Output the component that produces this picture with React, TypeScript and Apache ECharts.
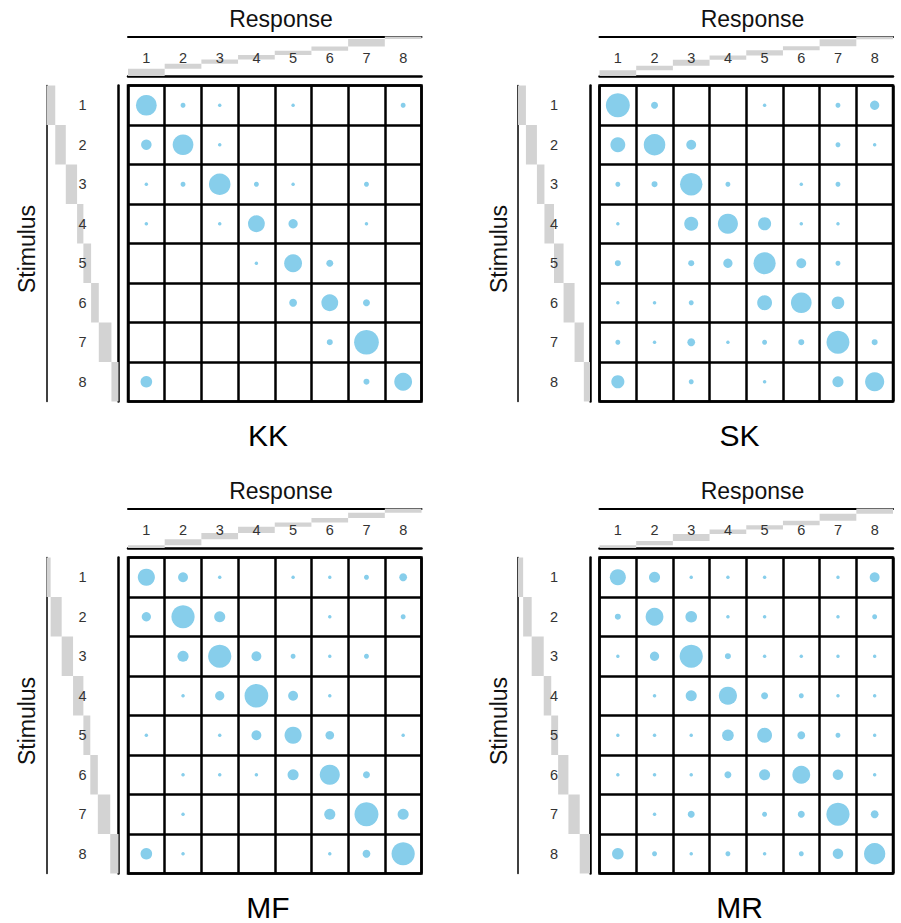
import React, { useEffect, useRef } from "react";
import * as echarts from "echarts";

// Category labels shared by both axes of every confusion matrix
const LEVELS = ["1", "2", "3", "4", "5", "6", "7", "8"];
const SUBJECTS = ["KK", "SK", "MF", "MR"];

// Response counts: rows = stimulus 1..8, columns = response 1..8
const kkCounts = [
  [35, 2, 1, 0, 1, 0, 0, 2],
  [9, 35, 1, 0, 0, 0, 0, 0],
  [1, 2, 38, 2, 1, 0, 2, 0],
  [1, 0, 1, 23, 7, 0, 1, 0],
  [0, 0, 0, 1, 26, 4, 0, 0],
  [0, 0, 0, 0, 5, 23, 4, 0],
  [0, 0, 0, 0, 0, 3, 50, 0],
  [11, 0, 0, 0, 0, 0, 3, 26],
];
const skCounts = [
  [47, 4, 0, 0, 1, 0, 2, 7],
  [18, 38, 8, 0, 0, 0, 2, 1],
  [2, 3, 41, 2, 0, 1, 2, 0],
  [1, 0, 16, 33, 14, 1, 1, 0],
  [3, 0, 3, 7, 40, 8, 2, 0],
  [1, 1, 2, 0, 18, 35, 13, 0],
  [2, 1, 5, 1, 2, 3, 43, 3],
  [14, 0, 2, 0, 1, 0, 10, 30],
];
const mfCounts = [
  [24, 8, 1, 0, 1, 1, 2, 5],
  [7, 44, 10, 0, 0, 1, 0, 2],
  [0, 10, 44, 8, 2, 1, 2, 0],
  [0, 1, 7, 46, 8, 1, 0, 0],
  [1, 0, 1, 8, 24, 6, 0, 1],
  [0, 1, 1, 1, 10, 33, 4, 0],
  [0, 1, 0, 0, 0, 10, 47, 10],
  [11, 1, 0, 0, 0, 1, 5, 44],
];
const mrCounts = [
  [21, 10, 1, 1, 1, 0, 1, 8],
  [3, 26, 11, 1, 1, 0, 1, 2],
  [1, 7, 44, 3, 1, 1, 1, 1],
  [0, 1, 10, 27, 4, 2, 1, 1],
  [1, 1, 1, 11, 18, 5, 2, 1],
  [1, 1, 1, 4, 10, 26, 9, 1],
  [0, 1, 4, 0, 2, 4, 44, 5],
  [11, 2, 1, 2, 1, 2, 9, 37],
];

// Marginal shares (relative weights) of each response and each stimulus
const kkResponseShare = [6.7, 4.7, 4, 4, 4, 4, 7, 2.3];
const kkStimulusShare = [8.3, 10, 10.7, 6, 7.3, 7.3, 12, 6.7];
const skResponseShare = [5.7, 4.3, 5.7, 4.3, 5, 4, 6.7, 2.7];
const skStimulusShare = [7.7, 10.7, 7.3, 9.3, 9.3, 10.7, 9, 6];
const mfResponseShare = [2.7, 5.7, 5.7, 6, 4, 4.3, 5, 4];
const mfStimulusShare = [4, 10.7, 11, 10, 6.7, 7.3, 12, 8];
const mrResponseShare = [2.7, 4, 6.7, 4.3, 4, 4.3, 6.7, 5];
const mrStimulusShare = [5, 8.3, 11.7, 7.3, 6.7, 10, 11, 10];

const COUNTS = [kkCounts, skCounts, mfCounts, mrCounts];
const RESPONSE_SHARES = [kkResponseShare, skResponseShare, mfResponseShare, mrResponseShare];
const STIMULUS_SHARES = [kkStimulusShare, skStimulusShare, mfStimulusShare, mrStimulusShare];

// Layout
const PANEL_ORIGINS = [
  [128, 85.5],
  [599.5, 85.5],
  [128, 557.5],
  [599.5, 557.5],
];
const GRID_W = 293.5;
const GRID_H = 316;
const FONT = '"Liberation Sans", Arial, Helvetica, sans-serif';
const BUBBLE = "#87CEEB";
const STRIP = "#D3D3D3";
const INK = "#000000";
const SIZE_PER_ROOT = 3.5;

function cumulative(shares: number[]) {
  const total = shares.reduce((a, b) => a + b, 0);
  let acc = 0;
  return shares.map((s, i) => {
    const start = acc / total;
    acc += s;
    return [i, start, acc / total];
  });
}

function buildOption() {
  const grid: any[] = [];
  const xAxis: any[] = [];
  const yAxis: any[] = [];
  const series: any[] = [];
  const graphic: any[] = [];

  SUBJECTS.forEach((name, k) => {
    const [left, top] = PANEL_ORIGINS[k];

    // main matrix grid
    const gMain = grid.length;
    grid.push({
      left,
      top,
      width: GRID_W,
      height: GRID_H,
      show: true,
      borderColor: INK,
      borderWidth: 2.5,
      backgroundColor: "transparent",
    });
    const xMain = xAxis.length;
    xAxis.push({
      type: "category",
      gridIndex: gMain,
      data: LEVELS,
      position: "top",
      z: 5,
      axisLine: { show: false },
      axisTick: { show: false },
      axisLabel: { fontSize: 14.5, color: "#333", fontFamily: FONT, margin: 20.5 },
      splitLine: { show: true, lineStyle: { color: INK, width: 2.5 } },
    });
    const yMain = yAxis.length;
    yAxis.push({
      type: "category",
      gridIndex: gMain,
      data: LEVELS,
      inverse: true,
      z: 5,
      axisLine: { show: false },
      axisTick: { show: false },
      axisLabel: { fontSize: 14.5, color: "#333", fontFamily: FONT, margin: 41.5 },
      splitLine: { show: true, lineStyle: { color: INK, width: 2.5 } },
    });
    const cells: number[][] = [];
    COUNTS[k].forEach((row, r) =>
      row.forEach((v, c) => {
        if (v > 0) cells.push([c, r, v]);
      })
    );
    series.push({
      type: "scatter",
      xAxisIndex: xMain,
      yAxisIndex: yMain,
      data: cells,
      symbol: "circle",
      symbolSize: (val: number[]) => SIZE_PER_ROOT * Math.sqrt(val[2]),
      itemStyle: { color: BUBBLE, opacity: 1 },
      silent: true,
      z: 3,
    });

    // response marginal strip above the matrix
    const gTop = grid.length;
    grid.push({ left, top: top - 49, width: GRID_W, height: 39.5 });
    const xTopBottom = xAxis.length;
    xAxis.push({
      type: "category",
      gridIndex: gTop,
      data: LEVELS,
      position: "bottom",
      axisLine: { show: true, onZero: false, lineStyle: { color: INK, width: 2.5 } },
      axisTick: { show: false },
      axisLabel: { show: false },
      splitLine: { show: false },
    });
    xAxis.push({
      type: "category",
      gridIndex: gTop,
      data: LEVELS,
      position: "top",
      axisLine: { show: true, onZero: false, lineStyle: { color: INK, width: 2 } },
      axisTick: { show: false },
      axisLabel: { show: false },
      splitLine: { show: false },
    });
    const yTop = yAxis.length;
    yAxis.push({ type: "value", gridIndex: gTop, min: 0, max: 1, show: false });
    series.push({
      type: "custom",
      xAxisIndex: xTopBottom,
      yAxisIndex: yTop,
      data: cumulative(RESPONSE_SHARES[k]),
      encode: { x: 0, y: [1, 2] },
      clip: false,
      silent: true,
      z: 1,
      renderItem: (_p: any, api: any) => {
        const i = api.value(0);
        const a = api.coord([i, api.value(1)]);
        const b = api.coord([i, api.value(2)]);
        const bw = api.size([1, 0])[0];
        return {
          type: "rect",
          shape: { x: a[0] - bw / 2, y: b[1], width: bw, height: a[1] - b[1] },
          style: { fill: STRIP },
        };
      },
    });

    // stimulus marginal strip left of the matrix
    const gLeft = grid.length;
    grid.push({ left: left - 81.5, top, width: 72, height: GRID_H });
    const xLeft = xAxis.length;
    xAxis.push({ type: "value", gridIndex: gLeft, min: 0, max: 1, show: false });
    const yLeftA = yAxis.length;
    yAxis.push({
      type: "category",
      gridIndex: gLeft,
      data: LEVELS,
      inverse: true,
      position: "left",
      axisLine: { show: true, onZero: false, lineStyle: { color: INK, width: 1.5 } },
      axisTick: { show: false },
      axisLabel: { show: false },
      splitLine: { show: false },
    });
    yAxis.push({
      type: "category",
      gridIndex: gLeft,
      data: LEVELS,
      inverse: true,
      position: "right",
      axisLine: { show: true, onZero: false, lineStyle: { color: INK, width: 2.5 } },
      axisTick: { show: false },
      axisLabel: { show: false },
      splitLine: { show: false },
    });
    series.push({
      type: "custom",
      xAxisIndex: xLeft,
      yAxisIndex: yLeftA,
      data: cumulative(STIMULUS_SHARES[k]).map(([i, s, e]) => [s, e, i]),
      encode: { x: [0, 1], y: 2 },
      clip: false,
      silent: true,
      z: 1,
      renderItem: (_p: any, api: any) => {
        const i = api.value(2);
        const a = api.coord([api.value(0), i]);
        const b = api.coord([api.value(1), i]);
        const bh = api.size([0, 1])[1];
        return {
          type: "rect",
          shape: { x: a[0], y: a[1] - bh / 2, width: b[0] - a[0], height: bh },
          style: { fill: STRIP },
        };
      },
    });

    // axis titles and panel label
    graphic.push(
      {
        type: "text",
        x: left + 153,
        y: top - 67,
        style: {
          text: "Response",
          fontSize: 23,
          fontFamily: FONT,
          fill: "#111",
          textAlign: "center",
          textVerticalAlign: "middle",
        },
      },
      {
        type: "text",
        x: left - 101,
        y: top + 163.5,
        rotation: Math.PI / 2,
        style: {
          text: "Stimulus",
          fontSize: 23,
          fontFamily: FONT,
          fill: "#111",
          textAlign: "center",
          textVerticalAlign: "middle",
        },
      },
      {
        type: "text",
        x: left + 140,
        y: top + 349.5,
        style: {
          text: name,
          fontSize: 30,
          fontFamily: FONT,
          fill: "#000",
          textAlign: "center",
          textVerticalAlign: "middle",
        },
      }
    );
  });

  return {
    animation: false,
    backgroundColor: "#ffffff",
    grid,
    xAxis,
    yAxis,
    series,
    graphic,
  };
}

export default function App() {
  const ref = useRef<HTMLDivElement>(null);

  useEffect(() => {
    document.body.style.margin = "0";
    if (!ref.current) return;
    const chart = echarts.init(ref.current, undefined, { renderer: "svg" });
    chart.setOption(buildOption() as any);
    return () => chart.dispose();
  }, []);

  return <div ref={ref} style={{ width: 901, height: 923 }} />;
}
